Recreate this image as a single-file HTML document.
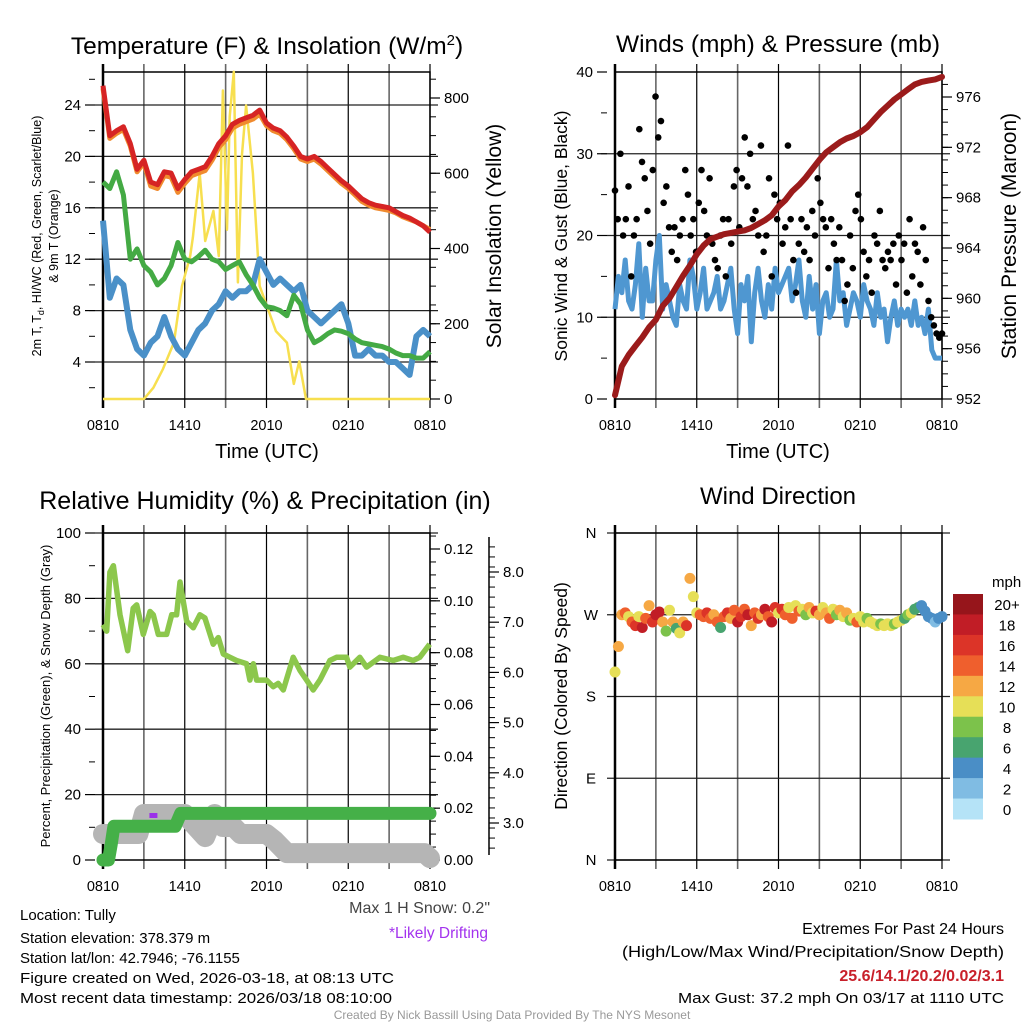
<!DOCTYPE html>
<html><head><meta charset="utf-8"><style>
html,body{margin:0;padding:0;background:#fff;}
svg{display:block;font-family:"Liberation Sans",Arial,sans-serif;}
</style></head><body>
<svg id="chart" width="1024" height="1024" viewBox="0 0 1024 1024" xmlns="http://www.w3.org/2000/svg">
<rect width="1024" height="1024" fill="#fff"/>
<g id="layer"></g>
<g id="texts" font-size="14" fill="#000">
<text x="267" y="54" font-size="24.5" text-anchor="middle">Temperature (F) &amp; Insolation (W/m<tspan font-size="15" dy="-9">2</tspan><tspan dy="9">)</tspan></text>
<text x="778" y="52" font-size="24.5" text-anchor="middle">Winds (mph) &amp; Pressure (mb)</text>
<text x="265" y="509" font-size="25" text-anchor="middle">Relative Humidity (%) &amp; Precipitation (in)</text>
<text x="778" y="504" font-size="24" text-anchor="middle">Wind Direction</text>
<text x="267" y="458" font-size="20" text-anchor="middle">Time (UTC)</text>
<text x="778" y="458" font-size="20" text-anchor="middle">Time (UTC)</text>
<text transform="translate(41,236) rotate(-90)" font-size="12.5" text-anchor="middle">2m T, T<tspan font-size="9" dy="3">d</tspan><tspan dy="-3">, HI/WC (Red, Green, Scarlet/Blue)</tspan></text>
<text transform="translate(58,236) rotate(-90)" font-size="12.5" text-anchor="middle">&amp; 9m T (Orange)</text>
<text transform="translate(501,236) rotate(-90)" font-size="21" text-anchor="middle">Solar Insolation (Yellow)</text>
<text transform="translate(567,236) rotate(-90)" font-size="17.5" text-anchor="middle">Sonic Wind &amp; Gust (Blue, Black)</text>
<text transform="translate(1016,236) rotate(-90)" font-size="21" text-anchor="middle">Station Pressure (Maroon)</text>
<text transform="translate(50,696) rotate(-90)" font-size="13" text-anchor="middle">Percent, Precipitation (Green), &amp; Snow Depth (Gray)</text>
<text transform="translate(567,696) rotate(-90)" font-size="17.5" text-anchor="middle">Direction (Colored By Speed)</text>
<text x="490" y="913" font-size="16" fill="#444" text-anchor="end">Max 1 H Snow: 0.2"</text>
<text x="488" y="938" font-size="15.5" fill="#a333ee" text-anchor="end">*Likely Drifting</text>
<text x="20" y="920" font-size="15">Location: Tully</text>
<text x="20" y="943" font-size="15">Station elevation: 378.379 m</text>
<text x="20" y="963" font-size="15">Station lat/lon: 42.7946; -76.1155</text>
<text x="20" y="983" font-size="15" textLength="374" lengthAdjust="spacingAndGlyphs">Figure created on Wed, 2026-03-18, at 08:13 UTC</text>
<text x="20" y="1003" font-size="15" textLength="372" lengthAdjust="spacingAndGlyphs">Most recent data timestamp: 2026/03/18 08:10:00</text>
<text x="1004" y="934" font-size="16" text-anchor="end">Extremes For Past 24 Hours</text>
<text x="1004" y="957" font-size="16" text-anchor="end" textLength="382" lengthAdjust="spacingAndGlyphs">(High/Low/Max Wind/Precipitation/Snow Depth)</text>
<text x="1004" y="981" font-size="16" font-weight="bold" fill="#c8202a" text-anchor="end">25.6/14.1/20.2/0.02/3.1</text>
<text x="1004" y="1003" font-size="15" text-anchor="end" textLength="326" lengthAdjust="spacingAndGlyphs">Max Gust: 37.2 mph On 03/17 at 1110 UTC</text>
<text x="512" y="1019" font-size="12" fill="#999" text-anchor="middle">Created By Nick Bassill Using Data Provided By The NYS Mesonet</text>
</g>
</svg>
<script>
// ---- data ----
const xTickLabels = ["0810","1410","2010","0210","0810"];
const tempT = [25.5,21.6,22,22.3,21,19,19.7,18,17.8,18.8,18.7,17.5,18.2,18.8,19,19.2,20,21,21.6,22.5,22.8,23,23.2,23.6,22.6,22.2,22,21.5,20.8,20,19.8,20,19.6,19.1,18.6,18.1,17.7,17.2,16.7,16.4,16.2,16.1,16,15.7,15.4,15.2,14.9,14.6,14.1];
const temp9m = [25.3,21.4,21.8,22.1,20.8,18.8,19.5,17.7,17.5,18.5,18.4,17.2,17.9,18.5,18.7,18.9,19.7,20.7,21.3,22.2,22.5,22.7,22.9,23.3,22.4,22,21.8,21.3,20.6,19.8,19.6,19.8,19.4,18.9,18.4,17.9,17.5,17,16.5,16.2,16,15.9,15.8,15.6,15.3,15.1,14.9,14.6,14.3];
const dewpoint = [18,17.5,18.8,17,12,12.8,11.5,11,10,10.5,11.5,13.3,12,11.8,12.2,12.7,12,11.8,11.2,11.5,11.8,10.8,10,9,8.3,8.2,8,7.6,9.2,8.5,6.5,5.5,5.8,6.2,6.5,6.4,6.2,5.8,5.5,5.4,5.3,5.2,5,4.7,4.5,4.5,4.3,4.3,4.8];
const windChill = [15,9,10.5,10,6.5,5,4.5,5.5,6,7.5,6,5,4.5,5.5,6.5,7,8,8.5,9.5,9,9.5,9.5,10,12,11,10,10.5,10,9.5,10,8,7.5,7,7.5,8,8.5,7,4.5,4.5,5,4.5,4.5,4,4,3.5,3,6,6.5,6];
const solarHours = [0,3.0,3.7,4.4,5.2,5.8,6.4,6.6,7.1,7.5,8.1,8.5,8.8,9.1,9.3,9.6,9.9,10.2,10.5,11,11.5,12,12.7,13.5,14,14.4,14.9,24];
const solarVals = [0,0,30,80,150,300,380,430,600,420,500,380,820,450,750,870,310,650,780,600,300,250,180,150,40,100,0,0];
const windSpeed = [11,15,13,17,12,11,14,19,10,16,12,12,17,20,11,14,12,10,9,14,12,11,17,15,11,13,16,11,12,13,15,11,12,14,16,11,8,14,12,15,7,13,16,12,10,14,11,16,13,14,15,16,12,14,17,12,10,15,11,14,8,12,13,10,11,17,12,13,9,11,13,12,10,14,12,11,9,13,10,11,7,10,12,9,11,10,11,9,12,9,10,8,11,6,5,5,5];
const gusts = [25.5,22,30,20,22,26,15,20,22,33,29,27,23,19,28,37,32,34,24,26,21,18,21,17,20,22,28,25,20,22,18,24,28,23,20,27,19,17,16,20,22,15,22,19,26,28,21,27,32,26,30,22,23,20,31,18,20,27,15,25,22,24,19,21,31,22,17,13,19,22,18,21,17,23,20,27,24,22,21,16,22,19,17,21,17,12,14,20,16,23,25,22,18,15,17,13,20,19,23,17,16,18,17,19,14,20,17,19,13,22,15,19,18,14,21,17,12,10,9,8,7.5,8];
const pressure = [952.3,954.6,955.5,956.2,956.9,957.7,958.3,959.4,960,960.9,961.8,962.6,963.5,964.2,964.7,964.9,965.1,965.2,965.3,965.4,965.6,965.9,966.2,966.6,967.3,967.8,968.5,969,969.6,970.3,971,971.6,972,972.4,972.7,972.9,973.2,973.6,974.2,974.8,975.3,975.8,976.2,976.6,977,977.2,977.3,977.4,977.6];
const rhHours = [0,0.27,0.51,0.76,1.25,1.81,2.22,2.47,2.96,3.45,3.69,4.06,4.67,5.04,5.4,5.65,6.14,6.63,7.11,7.48,8.09,8.46,8.83,9.32,9.8,10.54,10.78,11.03,11.27,12,12.49,12.86,13.23,13.96,14.45,14.94,15.43,15.92,16.65,17.14,17.87,18.12,18.85,19.34,20.32,21.3,22.03,22.76,23.25,23.98];
const rhVals = [72,70,88,90,75,64,77,78,69,76,75,69,69,75,75,85,73,71,75,74,66,68,63,62,61,60,55,60,55,55,53,54,52,62,58,55,52,55,61,62,62,59,62,59,62,61,62,61,62,66];
const precipHours = [0,0.4,0.6,0.8,5.3,5.7,24];
const precipVals = [0,0,0.006,0.013,0.013,0.018,0.018];
const snowHours = [0,2.6,3.0,6.0,6.4,7.5,8.2,8.8,9.6,10.1,12.0,12.6,13.5,23.6,24];
const snowVals = [2.78,2.78,3.18,3.18,3.05,2.72,3.18,2.92,2.92,2.78,2.78,2.65,2.4,2.4,2.3];
const dirVals = [207,235,270,272,268,262,258,268,256,266,280,262,270,273,262,252,275,262,255,250,262,258,310,290,272,270,268,272,266,270,262,256,268,272,266,275,262,268,276,270,258,272,266,270,276,268,262,278,272,276,270,278,266,280,274,276,270,278,272,274,270,278,272,266,276,270,275,268,272,264,266,262,268,262,266,262,260,258,260,258,260,258,260,262,264,266,270,272,276,278,280,274,268,266,262,266,268];
const dirSpeed = [10,12,13,14,11,15,17,10,18,14,12,16,19,19,12,8,10,12,7,11,13,17,12,10,10,15,14,16,14,13,14,7,15,16,12,14,18,17,15,19,12,14,16,13,18,15,19,17,11,16,14,10,15,10,14,11,8,13,11,16,12,10,12,15,11,8,12,10,13,8,10,14,11,10,9,11,10,10,9,10,10,10,9,10,11,7,8,10,7,6,5,4,4,4,3,4,4];
const speedBinLabels = ["20+","18","16","14","12","10","8","6","4","2","0"];
const speedBinColors = ["#96151b","#c11d26","#dc3428","#ef5f2d","#f6a844","#e6df57","#7cc24b","#48a46f","#4a8ec6","#80bce3","#b5e3f7"];

// ---- helpers ----
const NS="http://www.w3.org/2000/svg";
const layer=document.getElementById('layer');
function mk(tag,attrs,parent){const e=document.createElementNS(NS,tag);for(const k in attrs)e.setAttribute(k,attrs[k]);(parent||layer).appendChild(e);return e;}
function xs(L,R){return h=>L+h*(R-L)/24;}
function lin(v0,y0,v1,y1){return v=>y0+(v-v0)*(y1-y0)/(v1-v0);}
function pathD(hs,vs,X,Y){return hs.map((h,i)=>(i?'L':'M')+X(h).toFixed(1)+','+Y(vs[i]).toFixed(1)).join('');}
function stepHours(n){const a=[];for(let i=0;i<n;i++)a.push(i*24/(n-1));return a;}

function frame(L,R,T,B,hGrid,Yf,name){
  for(let k=0;k<=8;k++){const x=L+k*(R-L)/8;
    const g=mk('line',{x1:x,x2:x,y1:T-8,y2:B+9,stroke:k%2?'#666':'#000','stroke-width':k%2?1.6:1.2});
    
    
  }
  hGrid.forEach(v=>{const y=Yf(v);
    const g=mk('line',{x1:L-8,x2:R+8,y1:y,y2:y,stroke:'#222','stroke-width':1.3});
    
    
  });
  const f=mk('rect',{x:L,y:T,width:R-L,height:B-T,fill:'none',stroke:'#000','stroke-width':1.5});
  
  
  const la=mk('line',{x1:L,x2:L,y1:T-8,y2:B+9,stroke:'#000','stroke-width':2.5});
  
  
  xTickLabels.forEach((t,i)=>{const x=L+i*(R-L)/4;
    const tx=mk('text',{x:x,y:B+31,'font-size':14.5,'text-anchor':'middle'});tx.textContent=t;
    
    
  });
}
function yTicks(x,vals,Yf,fmt,side,name,minor){
  const dir=side==='left'?-1:1;
  if(minor)minor.forEach(v=>{const y=Yf(v);
    const m=mk('line',{x1:x,x2:x+dir*6,y1:y,y2:y,stroke:'#000','stroke-width':1});
    
    
  });
  vals.forEach(v=>{const y=Yf(v);
    const t=mk('line',{x1:x,x2:x+dir*10,y1:y,y2:y,stroke:'#000','stroke-width':1.2});
    
    
    const tx=mk('text',{x:x+dir*14,y:y+5,'font-size':15,'text-anchor':side==='left'?'end':'start'});tx.textContent=fmt(v);
    
    
  });
}
function range(a,b,s){const r=[];for(let v=a;v<=b+1e-9;v+=s)r.push(+v.toFixed(4));return r;}

// ===== Panel 1: Temperature =====
(function(){
  const L=103,R=430,T=72,B=399;const X=xs(L,R);
  const Y=lin(4,362,24,105);const YS=lin(0,399,800,98);
  frame(L,R,T,B,[4,8,12,16,20,24],Y,'temp');
  yTicks(L-8,[4,8,12,16,20,24],Y,v=>v,'left','temp-y',range(2,26,2));
  yTicks(R,[0,200,400,600,800],YS,v=>v,'right','solar-y',range(0,850,50));
  const hh=stepHours(49);
  const sol=mk('path',{d:pathD(solarHours,solarVals,X,YS),fill:'none',stroke:'#f7df4f','stroke-width':2.5,'stroke-linejoin':'round'});
  
  
  const wc=mk('path',{d:pathD(hh,windChill,X,Y),fill:'none',stroke:'#4a90c8','stroke-width':6,'stroke-linejoin':'round'});
  
  
  const dp=mk('path',{d:pathD(hh,dewpoint,X,Y),fill:'none',stroke:'#44aa44','stroke-width':5,'stroke-linejoin':'round'});
  
  
  const t9=mk('path',{d:pathD(hh,temp9m,X,Y),fill:'none',stroke:'#f08a2e','stroke-width':5,'stroke-linejoin':'round'});
  
  
  const t2=mk('path',{d:pathD(hh,tempT,X,Y),fill:'none',stroke:'#d62424','stroke-width':5,'stroke-linejoin':'round'});
  
  
})();

// ===== Panel 2: Wind & Pressure =====
(function(){
  const L=615,R=942,T=72,B=399;const X=xs(L,R);
  const Y=lin(0,399,40,72);const YP=lin(952,399,976,97);
  frame(L,R,T,B,[10,20,30],Y,'wind');
  yTicks(L-8,[0,10,20,30,40],Y,v=>v,'left','wind-y',range(5,35,5));
  yTicks(R,[952,956,960,964,968,972,976],YP,v=>v,'right','pressure-y',range(952,977,1));
  const ws=mk('path',{d:pathD(stepHours(windSpeed.length),windSpeed,X,Y),fill:'none',stroke:'#4f97d1','stroke-width':5,'stroke-linejoin':'round'});
  
  
  const gh=stepHours(gusts.length);
  gusts.forEach((g,i)=>{
    const c=mk('circle',{cx:X(gh[i]),cy:Y(g),r:3.3,fill:'#000'});
    
    
  });
  const pr=mk('path',{d:pathD(stepHours(pressure.length),pressure,X,YP),fill:'none',stroke:'#9b1b1b','stroke-width':6,'stroke-linejoin':'round','stroke-linecap':'round'});
  
  
})();

// ===== Panel 3: RH & Precip =====
(function(){
  const L=103,R=430,T=533,B=860;const X=xs(L,R);
  const Y=lin(0,860,100,533);const YP=lin(0,860,0.12,549);const YSn=lin(3,823,8,572);
  frame(L,R,T,B,[20,40,60,80,100],Y,'rh');
  yTicks(L-8,[0,20,40,60,80,100],Y,v=>v,'left','rh-y',range(10,90,20));
  yTicks(R,range(0,0.12,0.02),YP,v=>v.toFixed(2),'right','precip-y',range(0,0.125,0.005));
  const ax=mk('line',{x1:489,x2:489,y1:537,y2:855,stroke:'#000','stroke-width':1.5});
  
  
  yTicks(489,[3,4,5,6,7,8],YSn,v=>v.toFixed(1),'right','snow-y',range(2.5,8.5,0.2));
  const sn=mk('path',{d:pathD(snowHours,snowVals,X,YSn),fill:'none',stroke:'#b5b5b5','stroke-width':20,'stroke-linejoin':'round','stroke-linecap':'round'});
  
  
  const rh=mk('path',{d:pathD(rhHours,rhVals,X,Y),fill:'none',stroke:'#8cc74c','stroke-width':5.5,'stroke-linejoin':'round'});
  
  
  const pp=mk('path',{d:pathD(precipHours,precipVals,X,YP),fill:'none',stroke:'#45b048','stroke-width':13,'stroke-linejoin':'round','stroke-linecap':'round'});
  
  
  const dr=mk('rect',{x:X(3.7)-4,y:813,width:8,height:5,fill:'#9b30e8'});
  
  
})();

// ===== Panel 4: Wind Direction =====
(function(){
  const L=615,R=942,T=533,B=860;const X=xs(L,R);
  const Y=lin(0,860,360,533);
  frame(L,R,T,B,[0,90,180,270,360],Y,'direction');
  const lbl=["N","E","S","W","N"];
  [0,90,180,270,360].forEach((v,i)=>{
    const tx=mk('text',{x:591,y:Y(v)+5,'font-size':15,'text-anchor':'middle'});tx.textContent=lbl[i];
    
    
  });
  const dh=stepHours(dirVals.length);
  function colorFor(s){let idx=10-Math.min(10,Math.floor(s/2));return speedBinColors[idx];}
  dirVals.forEach((d,i)=>{
    const c=mk('circle',{cx:X(dh[i]),cy:Y(d),r:5.5,fill:colorFor(dirSpeed[i])});
    
    
  });
  const t=mk('text',{x:992,y:587,'font-size':15});t.textContent="mph";
  
  
  const bh=(819-594)/speedBinColors.length;
  speedBinColors.forEach((col,i)=>{
    const r=mk('rect',{x:953,y:594+i*bh,width:30,height:bh+0.5,fill:col});
    
    
    const tx=mk('text',{x:1007,y:594+i*bh+bh/2+6,'font-size':15,'text-anchor':'middle'});tx.textContent=speedBinLabels[i];
    
    
  });
})();
</script>
</body></html>
